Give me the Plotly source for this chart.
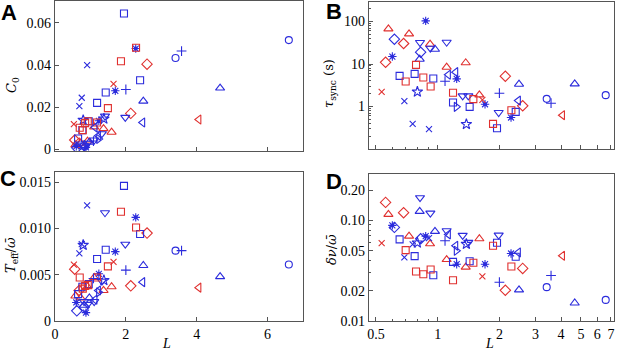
import plotly.graph_objects as go

# ---------------- data (one entry per sample) ----------------
SYM = ["diamond", "tri-up", "diamond", "tri-down", "tri-up", "tri-down", "asterisk", "diamond", "x", "square",
       "tri-up", "x", "star", "diamond", "asterisk", "x", "tri-up", "tri-up", "square", "x",
       "square", "square", "square", "square", "square", "tri-down", "tri-left", "cross", "tri-left", "tri-right",
       "tri-down", "tri-down", "star", "tri-up", "square", "square", "tri-down", "square", "asterisk", "square",
       "square", "tri-up", "tri-up", "asterisk", "square", "x", "cross", "asterisk", "square", "tri-left",
       "tri-left", "square", "diamond", "cross", "diamond", "tri-up", "circle", "tri-up", "circle"]
COL = ["r", "r", "r", "b", "b", "b", "b", "b", "r", "b",
       "r", "b", "b", "b", "b", "b", "r", "b", "r", "b",
       "b", "r", "r", "r", "b", "b", "b", "b", "b", "b",
       "b", "b", "b", "r", "b", "r", "b", "b", "b", "b",
       "r", "r", "r", "b", "r", "r", "b", "b", "b", "b",
       "r", "r", "r", "b", "r", "b", "b", "b", "b"]
L = [0.557, 0.575, 0.682, 0.820, 0.817, 0.921, 0.601, 0.615, 0.533, 0.652,
     0.725, 0.755, 0.796, 0.826, 0.874, 0.907, 0.918, 0.970, 0.698, 0.688,
     0.772, 0.784, 0.851, 0.924, 0.952, 1.106, 1.127, 1.086, 1.224, 1.233,
     1.324, 1.411, 1.380, 1.597, 1.947, 1.862, 1.984, 1.188, 1.238, 1.432,
     1.493, 1.370, 1.106, 1.702, 1.188, 1.652, 2.0, 2.279, 2.402, 2.474,
     4.06, 2.288, 2.598, 3.572, 2.138, 2.493, 3.402, 4.66, 6.6]
C0 = [0.0045, 0.0022, 0.0030, 0.0018, 0.0012, 0.0030, 0.0015, 0.0008, 0.0120, 0.0052,
      0.0030, 0.0245, 0.0139, 0.0018, 0.0010, 0.0399, 0.0040, 0.0035, 0.0103, 0.0205,
      0.0092, 0.0092, 0.0125, 0.0134, 0.0134, 0.0045, 0.0105, 0.0040, 0.0065, 0.0050,
      0.0075, 0.0158, 0.0145, 0.0082, 0.0644, 0.0418, 0.0152, 0.0221, 0.0136, 0.0270,
      0.0196, 0.0099, 0.0107, 0.0278, 0.0128, 0.0311, 0.0284, 0.0478, 0.0328, 0.0128,
      0.0142, 0.0482, 0.0404, 0.0466, 0.0171, 0.0229, 0.0433, 0.0291, 0.0518]
TAU = [11.0, 67.2, 30.4, 32.1, 13.0, 23.6, 15.0, 38.4, 2.21, 5.27,
       51.3, 0.391, 2.21, 19.0, 103.7, 0.293, 29.3, 22.3, 3.88, 1.335,
       5.87, 9.56, 4.81, 2.96, 4.56, 32.6, 5.6, 3.94, 6.43, 0.982,
       1.78, 1.78, 0.384, 1.88, 0.309, 0.391, 0.723, 1.24, 4.48, 0.98,
       1.49, 10.7, 8.42, 1.13, 2.10, 1.44, 2.06, 0.551, 0.749, 1.38,
       0.625, 0.82, 1.04, 1.198, 5.17, 3.35, 1.515, 3.41, 1.85]
TEFF = [0.0056, 0.0027, 0.0033, 0.0021, 0.0017, 0.0018, 0.0020, 0.0011, 0.0061, 0.0029,
        0.0025, 0.0083, 0.0082, 0.0015, 0.0009, 0.0125, 0.0037, 0.0025, 0.0047, 0.0073,
        0.0037, 0.0035, 0.0038, 0.0039, 0.0040, 0.0021, 0.0023, 0.0046, 0.0033, 0.0031,
        0.0043, 0.0117, 0.0044, 0.0037, 0.0146, 0.0118, 0.0083, 0.0067, 0.0051, 0.0077,
        0.0059, 0.0033, 0.0047, 0.0075, 0.0047, 0.0064, 0.0055, 0.0112, 0.0094, 0.0042,
        0.0036, 0.0101, 0.0095, 0.0076, 0.0038, 0.0060, 0.0076, 0.0048, 0.0061]
DNU = [0.151, 0.1148, 0.1192, 0.168, 0.123, 0.118, 0.0892, 0.0852, 0.0594, 0.0647,
       0.0698, 0.0577, 0.0599, 0.0657, 0.0698, 0.0667, 0.0585, 0.0777, 0.0506, 0.0428,
       0.0441, 0.0310, 0.0292, 0.0325, 0.0285, 0.0789, 0.0725, 0.0627, 0.0559, 0.0499,
       0.0709, 0.0604, 0.0581, 0.0657, 0.0599, 0.0559, 0.0714, 0.0387, 0.0367, 0.0393,
       0.0379, 0.0343, 0.0408, 0.0367, 0.0254, 0.0277, 0.0243, 0.0469, 0.0435, 0.0480,
       0.0445, 0.0348, 0.0333, 0.0283, 0.0202, 0.0204, 0.0217, 0.0151, 0.0162]

A_YTICKS = [0, 0.02, 0.04, 0.06]
A_YTEXT = ["0", "0.02", "0.04", "0.06"]
B_YTICKS = [1, 10, 100]
B_YTEXT = ["1", "10", "100"]
C_YTICKS = [0, 0.005, 0.010, 0.015]
C_YTEXT = ["0", "0.005", "0.010", "0.015"]
D_YTICKS = [0.01, 0.02, 0.05, 0.10, 0.20]
D_YTEXT = ["0.01", "0.02", "0.05", "0.10", "0.20"]
LIN_XTICKS = [0, 2, 4, 6]
LOG_XTICKS = [0.5, 1, 2, 3, 4, 5, 6, 7]

# ---------------- styling ----------------
COLORS = {"r": "#e0302f", "b": "#2b2bdc"}
SYMBOLS = {"diamond": "diamond-open", "tri-up": "triangle-up-open", "tri-down": "triangle-down-open",
           "tri-left": "triangle-left-open", "tri-right": "triangle-right-open", "square": "square-open",
           "circle": "circle-open", "x": "x-thin-open", "cross": "cross-thin-open", "star": "star-open",
           "asterisk": "asterisk-open"}
SIZES = {"diamond": 8, "tri-up": 8, "tri-down": 8, "tri-left": 8, "tri-right": 8, "square": 7,
         "circle": 7, "x": 6, "cross": 7, "star": 8, "asterisk": 7}

FONT = "Liberation Serif"
AXC = "#555555"

fig = go.Figure()

panels = [
    ("x", "y", C0),
    ("x2", "y2", TAU),
    ("x3", "y3", TEFF),
    ("x4", "y4", DNU),
]

keys = []
for s, c in zip(SYM, COL):
    if (s, c) not in keys:
        keys.append((s, c))

for xa, ya, yvals in panels:
    for s, c in keys:
        idx = [i for i in range(len(L)) if SYM[i] == s and COL[i] == c]
        xs = [L[i] for i in idx]
        ys = [yvals[i] for i in idx]
        fig.add_trace(go.Scatter(
            x=xs, y=ys, mode="markers", xaxis=xa, yaxis=ya, showlegend=False, hoverinfo="skip",
            marker=dict(symbol=SYMBOLS[s], size=SIZES[s], color=COLORS[c],
                        line=dict(color=COLORS[c], width=1.1))))
        if s == "asterisk":
            fig.add_trace(go.Scatter(
                x=xs, y=ys, mode="markers", xaxis=xa, yaxis=ya, showlegend=False, hoverinfo="skip",
                marker=dict(symbol="circle", size=4, color=COLORS[c], line=dict(width=0))))

axis_common = dict(showline=True, linecolor=AXC, linewidth=1.2, mirror=True, showgrid=False,
                   zeroline=False, ticks="inside", ticklen=4, tickcolor=AXC, automargin=False,
                   ticklabeloverflow="allow",
                   tickfont=dict(family=FONT, size=14, color="black"))

W, H = 617, 351
def dx(a, b):
    return [a / W, b / W]
def dy(top, bot):
    return [1 - bot / H, 1 - top / H]

lin_x = dict(type="linear", range=[0, 7], tickvals=LIN_XTICKS, **axis_common)
log_x = dict(type="log", range=[-0.335, 0.86], tickvals=LOG_XTICKS,
             ticktext=[str(v) for v in LOG_XTICKS],
             minor=dict(ticks="inside", ticklen=2, tickcolor=AXC, tickvals=[0.6, 0.7, 0.8, 0.9]),
             **axis_common)

fig.update_layout(
    width=W, height=H, margin=dict(l=0, r=0, t=0, b=0, autoexpand=False),
    paper_bgcolor="white", plot_bgcolor="white",
    font=dict(family=FONT, size=14, color="black"),
    xaxis=dict(domain=dx(55, 303), anchor="y", showticklabels=False, **lin_x),
    yaxis=dict(domain=dy(1, 151), anchor="x", range=[-0.0007, 0.0703],
               tickvals=A_YTICKS, ticktext=A_YTEXT, **axis_common),
    xaxis2=dict(domain=dx(369, 614), anchor="y2", showticklabels=False, **log_x),
    yaxis2=dict(domain=dy(2, 149), anchor="x2", type="log", range=[-1.0, 2.46],
                tickvals=B_YTICKS, ticktext=B_YTEXT,
                minor=dict(ticks="inside", ticklen=2, tickcolor=AXC,
                           tickvals=[0.2, 0.3, 0.4, 0.5, 0.6, 0.7, 0.8, 0.9, 2, 3, 4, 5, 6, 7, 8, 9,
                                     20, 30, 40, 50, 60, 70, 80, 90, 200]),
                **axis_common),
    xaxis3=dict(domain=dx(55, 303), anchor="y3", showticklabels=True, **lin_x),
    yaxis3=dict(domain=dy(172, 321), anchor="x3", range=[0, 0.0161],
                tickvals=C_YTICKS, ticktext=C_YTEXT, **axis_common),
    xaxis4=dict(domain=dx(369, 614), anchor="y4", showticklabels=True, **log_x),
    yaxis4=dict(domain=dy(174, 321), anchor="x4", type="log", range=[-2.0, -0.539],
                tickvals=D_YTICKS, ticktext=D_YTEXT,
                minor=dict(ticks="inside", ticklen=2, tickcolor=AXC,
                           tickvals=[0.03, 0.04, 0.06, 0.07, 0.08, 0.09]),
                **axis_common),
)

ann = []
def label(txt, x, y, size=22):
    ann.append(dict(text=txt, x=x / W, y=1 - y / H, xref="paper", yref="paper", showarrow=False,
                    xanchor="center", yanchor="middle",
                    font=dict(family="Liberation Sans", size=size, color="black")))
label("<b>A</b>", 9, 13)
label("<b>B</b>", 334, 12)
label("<b>C</b>", 8, 178)
label("<b>D</b>", 334, 181)

def ytitle(txt, x, y):
    ann.append(dict(text=txt, x=x / W, y=1 - y / H, xref="paper", yref="paper", showarrow=False,
                    textangle=-90, xanchor="center", yanchor="middle",
                    font=dict(family="DejaVu Serif", size=13, color="black")))
ytitle("<i>C</i><sub>0</sub>", 12, 85)
ytitle("<i>τ</i><sub>sync</sub> (s)", 330, 83)
ytitle("<i>T</i><sub>eff</sub>/<i>ω̄</i>", 11, 255)
ytitle("<i>δν</i>/<i>ω̄</i>", 331, 250)

def xtitle(txt, x, y):
    ann.append(dict(text=txt, x=x / W, y=1 - y / H, xref="paper", yref="paper", showarrow=False,
                    xanchor="center", yanchor="middle",
                    font=dict(family=FONT, size=14, color="black")))
xtitle("<i>L</i>", 166, 343)
xtitle("<i>L</i>", 489, 343)

fig.update_layout(annotations=ann)
fig.write_html("out.html", config={"displayModeBar": False},
               post_script="document.body.style.margin='0px';")
